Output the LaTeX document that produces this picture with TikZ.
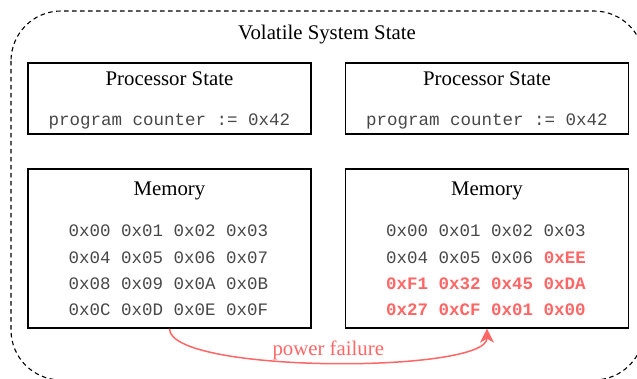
\documentclass[tikz,border=0pt]{standalone}
\usepackage{fontspec}
\setmainfont{Liberation Serif}
\setmonofont{Liberation Mono}
\usetikzlibrary{arrows.meta}
\definecolor{failred}{RGB}{255,102,102}
\newcommand{\corrupt}[1]{\textcolor{failred}{\bfseries #1}}

\begin{document}
\begin{tikzpicture}[x = 1pt, y = -1pt,
        statebox/.style = {draw, line width = 1.4pt, minimum width = 283pt, inner sep = 0pt},
        heading/.style = {anchor = base, inner sep = 0pt, font = \fontsize{20.8}{25}\selectfont},
        hexrow/.style = {anchor = base, inner sep = 0pt, text = black!72, font = \fontsize{17.5}{21}\selectfont\ttfamily}]
    \useasboundingbox (0, 0) rectangle (637, 379);
    \draw[dash pattern = on 4.5pt off 3.5pt, line width = 1.1pt, rounded corners = 50pt] (11, 11) rectangle (644, 380);
    \node[heading] (volatile) at (327, 39.5) {Volatile System State};

    \node[statebox, minimum height = 71pt] (procLeft) at (169.5, 98.5) {};
    \node[statebox, minimum height = 71pt] (procRight) at (487, 98.5) {};
    \node[heading] (procLeftTitle) at (169.5, 86) {Processor State};
    \node[heading] (procRightTitle) at (487, 86) {Processor State};
    \node[hexrow] (pcLeft) at (169.5, 126) {program counter := 0x42};
    \node[hexrow] (pcRight) at (487, 126) {program counter := 0x42};

    \node[statebox, minimum height = 159pt] (memLeft) at (169.5, 248.5) {};
    \node[statebox, minimum height = 159pt] (memRight) at (487, 248.5) {};
    \node[heading] (memLeftTitle) at (169.5, 196) {Memory};
    \node[heading] (memRightTitle) at (487, 196) {Memory};

    \node[hexrow] (rowA1) at (168.5, 237) {0x00 0x01 0x02 0x03};
    \node[hexrow] (rowA2) at (168.5, 263.3) {0x04 0x05 0x06 0x07};
    \node[hexrow] (rowA3) at (168.5, 289.6) {0x08 0x09 0x0A 0x0B};
    \node[hexrow] (rowA4) at (168.5, 316) {0x0C 0x0D 0x0E 0x0F};

    \node[hexrow] (rowB1) at (486, 237) {0x00 0x01 0x02 0x03};
    \node[hexrow] (rowB2) at (486, 263.3) {0x04 0x05 0x06 \corrupt{0xEE}};
    \node[hexrow] (rowB3) at (486, 289.6) {\corrupt{0xF1 0x32 0x45 0xDA}};
    \node[hexrow] (rowB4) at (486, 316) {\corrupt{0x27 0xCF 0x01 0x00}};

    \draw[failred, line width = 1.5pt, -{Stealth[length = 14pt, width = 14pt, inset = 4pt]}]
        (memLeft.south) .. controls +(0, 45) and +(0, 45) .. (memRight.south)
        node[pos = 0.5, above = 2pt, inner sep = 0pt, font = \fontsize{20.8}{25}\selectfont] (failure) {power failure};
\end{tikzpicture}
\end{document}
